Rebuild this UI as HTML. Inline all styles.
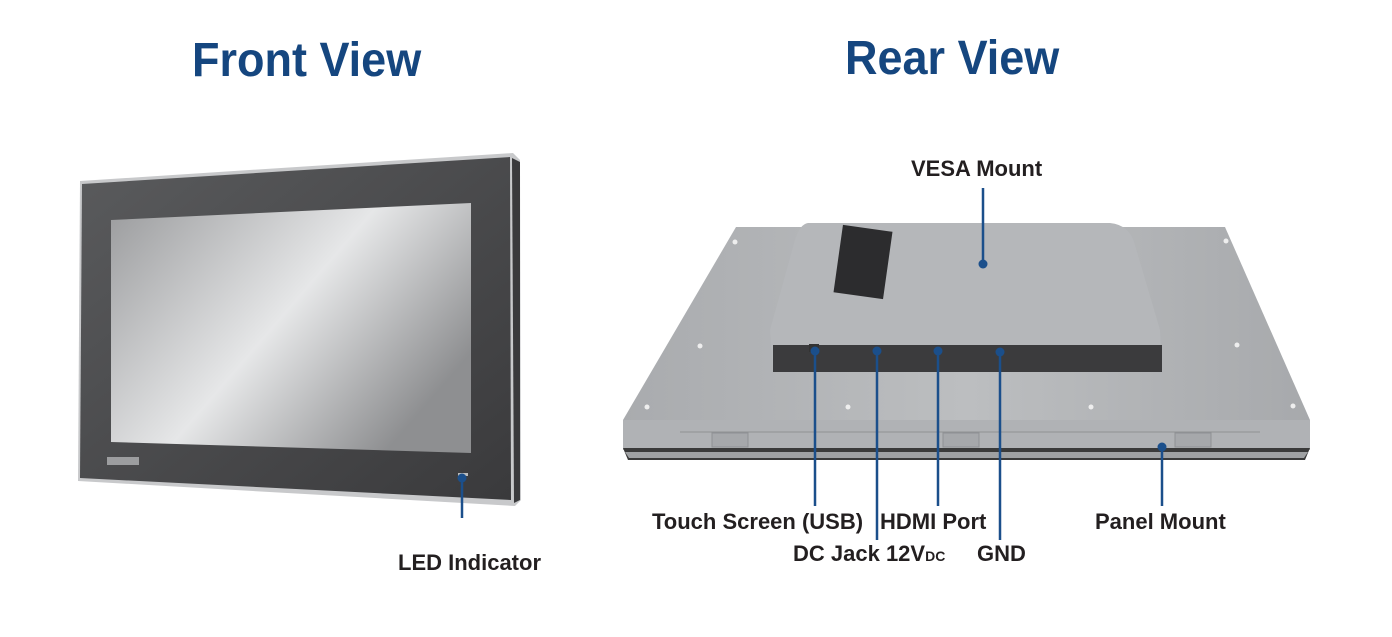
<!DOCTYPE html>
<html><head><meta charset="utf-8"><style>
html,body{margin:0;padding:0;background:#fff;}
body{width:1392px;height:637px;position:relative;overflow:hidden;font-family:"Liberation Sans",sans-serif;}
.t{position:absolute;font-weight:bold;color:#15467f;font-size:45px;line-height:1;transform:scaleY(1.08);transform-origin:top left;}
.l{position:absolute;font-size:22px;font-weight:bold;color:#231f20;line-height:1;white-space:nowrap;}
svg{position:absolute;left:0;top:0;}
</style></head><body>
<svg width="1392" height="637" viewBox="0 0 1392 637">
<defs>
<linearGradient id="scr" x1="0" y1="0" x2="1" y2="0.6">
<stop offset="0" stop-color="#9a9b9d"/><stop offset="0.55" stop-color="#e6e7e8"/><stop offset="1" stop-color="#8e8f91"/>
</linearGradient>
<linearGradient id="bz" x1="0" y1="0" x2="1" y2="1">
<stop offset="0" stop-color="#5a5b5d"/><stop offset="1" stop-color="#3a3a3c"/>
</linearGradient>
<linearGradient id="rear" x1="0" y1="0" x2="1" y2="0">
<stop offset="0" stop-color="#a9abae"/><stop offset="0.5" stop-color="#bcbec0"/><stop offset="1" stop-color="#a7a9ac"/>
</linearGradient>
</defs>
<polygon points="80,181 513,153 520,160 521,500 515,506 78,481" fill="#c8c9cb"/>
<polygon points="512,158 520,162 520,500 514,503" fill="#3a3a3c"/>
<polygon points="82,184 510,157 511,500 80,478" fill="url(#bz)"/>
<polygon points="111,220 471,203 471,453 111,442" fill="url(#scr)"/>
<rect x="107" y="457" width="32" height="8" fill="#9c9d9f"/>
<rect x="458" y="473" width="10" height="3" fill="#bbb"/>
<polygon points="736,227 1225,227 1310,420 623,420" fill="url(#rear)"/>
<polygon points="623,420 1310,420 1310,450 623,450" fill="#b0b2b5"/>
<polygon points="623,448 1310,448 1305,460 628,460" fill="#3a3a3a"/>
<polygon points="625,452 1308,452 1304,458 629,458" fill="#9fa1a3"/>
<line x1="680" y1="432" x2="1260" y2="432" stroke="#8f9194" stroke-width="1"/>
<rect x="712" y="433" width="36" height="14" fill="#a6a8ab" stroke="#8f9194"/>
<rect x="943" y="433" width="36" height="14" fill="#a6a8ab" stroke="#8f9194"/>
<rect x="1175" y="433" width="36" height="14" fill="#a6a8ab" stroke="#8f9194"/>
<path d="M808,223 L1110,223 Q1130,225 1135,245 L1160,330 L1162,372 L773,372 L770,330 L795,240 Q800,224 808,223 Z" fill="#b5b7ba"/>
<rect x="773" y="345" width="389" height="27" fill="#3b3b3d"/>
<rect x="838" y="228" width="50" height="68" fill="#2c2c2e" transform="rotate(8 863 262)"/>
<g fill="#eee">
<circle cx="735" cy="242" r="2.5"/><circle cx="1226" cy="241" r="2.5"/><circle cx="700" cy="346" r="2.5"/><circle cx="1237" cy="345" r="2.5"/>
<circle cx="647" cy="407" r="2.5"/><circle cx="848" cy="407" r="2.5"/><circle cx="1091" cy="407" r="2.5"/><circle cx="1293" cy="406" r="2.5"/>
</g>
<rect x="809" y="344" width="10" height="8" fill="#333"/>
<g stroke="#1b4f8b" stroke-width="2.5" fill="none">
<line x1="462" y1="478" x2="462" y2="518"/>
<line x1="983" y1="188" x2="983" y2="264"/>
<line x1="815" y1="351" x2="815" y2="506"/>
<line x1="877" y1="351" x2="877" y2="540"/>
<line x1="938" y1="351" x2="938" y2="506"/>
<line x1="1000" y1="352" x2="1000" y2="540"/>
<line x1="1162" y1="447" x2="1162" y2="506"/>
</g>
<g fill="#1b4f8b">
<circle cx="462" cy="478" r="4.5"/><circle cx="983" cy="264" r="4.5"/><circle cx="815" cy="351" r="4.5"/>
<circle cx="877" cy="351" r="4.5"/><circle cx="938" cy="351" r="4.5"/><circle cx="1000" cy="352" r="4.5"/><circle cx="1162" cy="447" r="4.5"/>
</g>
</svg>
<div class="t" style="left:192px;top:35px;">Front View</div>
<div class="t" style="left:845px;top:33px;">Rear View</div>
<div class="l" style="left:911px;top:158px;">VESA Mount</div>
<div class="l" style="left:398px;top:552px;">LED Indicator</div>
<div class="l" style="left:652px;top:511px;">Touch Screen (USB)</div>
<div class="l" style="left:880px;top:511px;">HDMI Port</div>
<div class="l" style="left:1095px;top:511px;">Panel Mount</div>
<div class="l" style="left:793px;top:543px;">DC Jack 12V<span style="font-size:14px;">DC</span></div>
<div class="l" style="left:977px;top:543px;">GND</div>
</body></html>
